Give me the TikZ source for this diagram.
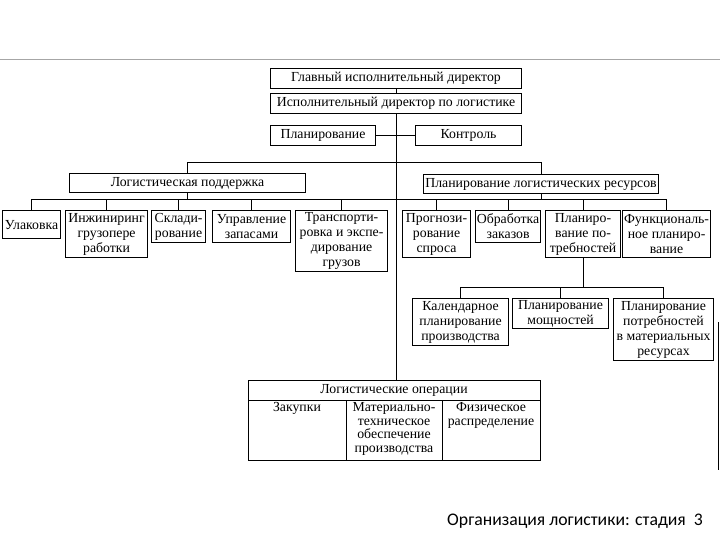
\documentclass[tikz,border=0pt]{standalone}
\usepackage{fontspec}
\setmainfont{Liberation Serif}
\newfontfamily\capfont{Carlito}
\tikzset{
  box/.style={draw, line width=1.1pt, anchor=north west, inner sep=0pt, align=center,
              font=\fontsize{13.8}{15}\selectfont},
  txt/.style={inner sep=0pt, align=center, font=\fontsize{13.8}{13.8}\selectfont},
  ln/.style={line width=1pt},
}
\begin{document}
\begin{tikzpicture}[x=1pt,y=-1pt]
\useasboundingbox (0,0) rectangle (720,540);
% top rule and edge
\draw[gray!70, line width=1pt] (0,60) -- (720,60);
\draw[line width=1.4pt] (718.5,322) -- (718.5,470);

% top hierarchy
\node[box,minimum width=251pt,minimum height=20pt] (gd) at (270,68) {Главный исполнительный директор};
\node[box,minimum width=251pt,minimum height=20pt] (id) at (270,93) {Исполнительный директор по логистике};
\node[box,minimum width=105pt,minimum height=20pt] (plan) at (270,125) {Планирование};
\node[box,minimum width=106pt,minimum height=20pt] (ctrl) at (415,125) {Контроль};

% second level
\node[box,minimum width=236pt,minimum height=19pt] (ls) at (69,173) {Логистическая поддержка};
\node[box,minimum width=235pt,minimum height=19pt] (plr) at (423,174) {Планирование логистических ресурсов};

% left children
\node[box,minimum width=58pt,minimum height=28pt] (ul) at (2,210) {Улаковка};
\node[box,minimum width=82pt,minimum height=47pt] (ing) at (65,210) {Инжиниринг\\грузопере\\работки};
\node[box,minimum width=54pt,minimum height=32pt] (skl) at (151,210) {Склади-\\рование};
\node[box,minimum width=78pt,minimum height=32pt] (upr) at (212,210) {Управление\\запасами};
\node[box,minimum width=92pt,minimum height=61pt] (tr) at (295,210) {Транспорти-\\ровка и экспе-\\дирование\\грузов};

% right children
\node[box,minimum width=68pt,minimum height=47pt] (prog) at (402,210) {Прогнози-\\рование\\спроса};
\node[box,minimum width=65pt,minimum height=32pt] (obr) at (475,210) {Обработка\\заказов};
\node[box,minimum width=75pt,minimum height=47pt] (pp) at (545,210) {Планиро-\\вание по-\\требностей};
\node[box,minimum width=88pt,minimum height=47pt] (fp) at (622,210) {Функциональ-\\ное планиро-\\вание};

% third level
\node[box,minimum width=96pt,minimum height=47pt] (kal) at (412,298) {Календарное\\планирование\\производства};
\node[box,minimum width=96pt,minimum height=30pt] (mosh) at (512,298) {Планирование\\мощностей};
\node[box,minimum width=100pt,minimum height=62pt] (pmr) at (613,298) {Планирование\\потребностей\\в материальных\\ресурсах};

% logistic operations table
\node[draw,line width=1.1pt,anchor=north west,minimum width=292pt,minimum height=80pt,inner sep=0pt] (lo) at (248,380) {};
\draw[ln] ([yshift=-20pt]lo.north west) -- ([yshift=-20pt]lo.north east);
\draw[ln] ([xshift=98pt,yshift=-20pt]lo.north west) -- ([xshift=98pt]lo.south west);
\draw[ln] ([xshift=194pt,yshift=-20pt]lo.north west) -- ([xshift=194pt]lo.south west);
\node[txt] (lohead) at (394,390) {Логистические операции};
\node[txt,anchor=north] (zak) at (297,402) {Закупки};
\node[txt,anchor=north] (mat) at (394,402) {Материально-\\техническое\\обеспечение\\производства};
\node[txt,anchor=north] (fiz) at (491,402) {Физическое\\распределение};

% connectors
\draw[ln] (gd) -- (id);
\draw[ln] (id.south) -- (id.south |- lo.north);
\draw[ln] (plan) -- (ctrl);
\draw[ln] (ls.north) -- ++(0,-10) -| (plr.north);
\draw[ln] (ul.north) -- ++(0,-10) -| (fp.north);
\draw[ln] (ls.south) -- (ls.south |- 0,200);
\draw[ln] (plr.south) -- (plr.south |- 0,200);
\foreach \n in {ing,skl,upr,tr,prog,obr,pp} \draw[ln] (\n.north) -- ++(0,-10);
\draw[ln] (pp.south) -- (pp.south |- 0,287);
\draw[ln] (kal.north) -- ++(0,-11) -| (pmr.north);
\draw[ln] (mosh.north) -- ++(0,-11);

% caption
\node[font=\capfont\fontsize{17.7}{20}\selectfont, inner sep=0pt] (cap) at (575,521) {Организация логистики: стадия~ 3};
\end{tikzpicture}
\end{document}
